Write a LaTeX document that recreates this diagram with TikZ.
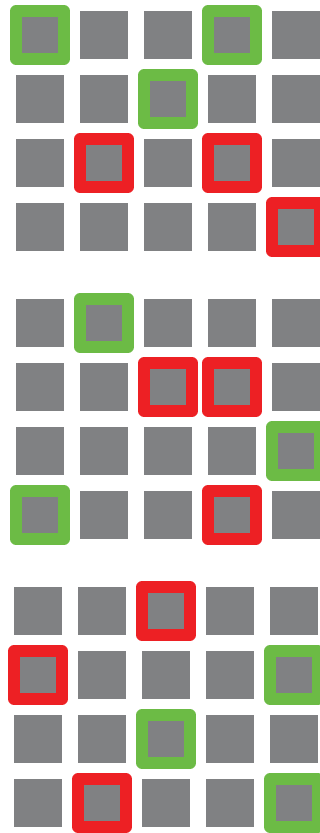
\documentclass[tikz,border=0pt]{standalone}
\definecolor{cellgray}{RGB}{128,129,131}
\definecolor{okgreen}{RGB}{108,187,69}
\definecolor{badred}{RGB}{237,32,36}
\tikzset{
  cell/.style={rectangle, fill=cellgray, minimum size=48pt, inner sep=0pt, outer sep=0pt},
  greenbox/.style={draw=okgreen, line width=11.5pt, line join=round},
  redbox/.style={draw=badred, line width=11.5pt, line join=round},
  % grid 1
  hl 1-0-0/.style=greenbox, hl 1-0-3/.style=greenbox,
  hl 1-1-2/.style=greenbox,
  hl 1-2-1/.style=redbox, hl 1-2-3/.style=redbox,
  hl 1-3-4/.style=redbox,
  % grid 2
  hl 2-0-1/.style=greenbox,
  hl 2-1-2/.style=redbox, hl 2-1-3/.style=redbox,
  hl 2-2-4/.style=greenbox,
  hl 2-3-0/.style=greenbox, hl 2-3-3/.style=redbox,
  % grid 3
  hl 3-0-2/.style=redbox,
  hl 3-1-0/.style=redbox, hl 3-1-4/.style=greenbox,
  hl 3-2-2/.style=greenbox,
  hl 3-3-1/.style=redbox, hl 3-3-4/.style=greenbox,
}
\begin{document}
\begin{tikzpicture}[x=1pt,y=-1pt]
\clip (0,0) rectangle (320,833);
\foreach \g/\ox/\oy in {1/40/35, 2/40/323, 3/38/611}{
  \foreach \r in {0,...,3}{
    \foreach \c in {0,...,4}{
      \node[cell, hl \g-\r-\c/.try] (q\g-\r-\c) at (\ox+64*\c, \oy+64*\r) {};
    }
  }
}
\end{tikzpicture}
\end{document}
